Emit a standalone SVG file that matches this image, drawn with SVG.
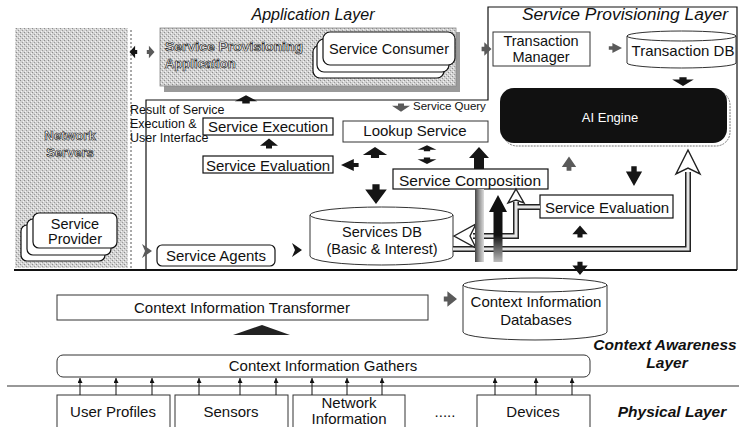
<svg xmlns="http://www.w3.org/2000/svg" width="739" height="427" viewBox="0 0 739 427">
<defs>
<style>
text{font-family:"Liberation Sans",Arial,sans-serif;fill:#111;font-size:15px}
.c{text-anchor:middle}
.box{fill:#fff;stroke:#111;stroke-width:1.2}
.thin{fill:#fff;stroke:#333;stroke-width:1}
.layer{font-style:italic;font-size:16px}
.layerb{font-style:italic;font-weight:bold;font-size:15.5px}
.hollow{fill:#fff;stroke:#2a2a2a;stroke-width:0.7px;font-weight:bold;font-size:13px}
.s13{font-size:13px}
.s125{font-size:12.5px}
.s145{font-size:14.5px}
.s155{font-size:15.5px}
.small{font-size:11.5px}
.frame{fill:none;stroke:#111;stroke-width:1.2}
.arr{fill:#151515}
.garr{fill:#5a5a5a}
.pipe{fill:none;stroke:#222;stroke-width:6}
.pipein{fill:none;stroke:#e4e4e4;stroke-width:3}
.hhead{fill:#fff;stroke:#222;stroke-width:1.4;stroke-linejoin:miter}
.up{stroke:#111;stroke-width:1;fill:none}
</style>
<pattern id="dith" width="4" height="4" patternUnits="userSpaceOnUse">
<rect width="4" height="4" fill="#d2d2d2"/>
<rect x="0" y="0" width="1" height="1" fill="#8c8c8c"/>
<rect x="2" y="2" width="1" height="1" fill="#9a9a9a"/>
<rect x="1" y="3" width="1" height="1" fill="#f4f4f4"/>
<rect x="3" y="1" width="1" height="1" fill="#f4f4f4"/>
</pattern>
<linearGradient id="col" x1="0" x2="1" y1="0" y2="0">
<stop offset="0" stop-color="#444"/><stop offset="0.5" stop-color="#999"/><stop offset="1" stop-color="#ddd"/>
</linearGradient>
<linearGradient id="fade" x1="0" x2="0" y1="0" y2="1">
<stop offset="0" stop-color="#111"/><stop offset="0.6" stop-color="#111"/><stop offset="1" stop-color="#bbb"/>
</linearGradient>
<path id="ua" d="M0,-5 L9,3 L3,3 L3,6 L-3,6 L-3,3 L-9,3 Z"/>
<path id="chev" d="M-5,-7 L5,0 L-5,7 L-2,0 Z"/>
<marker id="tip" viewBox="0 0 6 6" refX="6" refY="3" markerWidth="5" markerHeight="5" orient="auto">
<path d="M0,0 L6,3 L0,6 Z" fill="#111"/>
</marker>
</defs>

<rect width="739" height="427" fill="#fff"/>

<!-- layer frames -->
<g id="frames">
<path class="frame" d="M146,270 L146,100 L488,100 L488,7 L737,7 L737,270"/>
<line x1="14" y1="270" x2="737" y2="270" stroke="#111" stroke-width="2.2"/>
<line x1="7" y1="386" x2="739" y2="386" stroke="#333" stroke-width="1.2"/>
<text class="layer c" x="313" y="20" textLength="123" lengthAdjust="spacingAndGlyphs">Application Layer</text>
<text class="layer c" x="625" y="20" textLength="206" lengthAdjust="spacingAndGlyphs">Service Provisioning Layer</text>
<text class="layerb c" x="665" y="350">Context Awareness</text>
<text class="layerb c" x="667" y="368">Layer</text>
<text class="layerb c" x="672" y="417">Physical Layer</text>
</g>

<!-- network servers -->
<g id="network-servers">
<rect x="15" y="28" width="113" height="240" fill="url(#dith)"/>
<line x1="131" y1="30" x2="131" y2="268" stroke="#555" stroke-width="1" stroke-dasharray="2,2"/>
<text class="hollow c" x="70" y="140">Network</text>
<text class="hollow c" x="70" y="157">Servers</text>
</g>

<g id="service-provider">
<rect class="box" x="21" y="225" width="84" height="36" rx="6"/>
<rect class="box" x="27" y="219" width="84" height="36" rx="6"/>
<rect class="box" x="33" y="213" width="84" height="35" rx="6"/>
<text class="c s145" x="75" y="229">Service</text>
<text class="c s145" x="75" y="244">Provider</text>
</g>

<!-- application layer -->
<g id="provisioning-application">
<rect x="164" y="32" width="296" height="60" fill="#9a9a9a"/>
<rect x="160" y="28" width="296" height="58" fill="url(#dith)" stroke="#888" stroke-width="0.8"/>
<text class="hollow" x="165" y="51" textLength="138" lengthAdjust="spacingAndGlyphs">Service Provisioning</text>
<text class="hollow" x="165" y="68">Application</text>
</g>

<g id="service-consumer">
<rect class="box" x="313" y="45" width="131" height="33" rx="7"/>
<rect class="box" x="317" y="39" width="132" height="33" rx="7"/>
<rect class="box" x="323" y="32" width="132" height="33" rx="7"/>
<text class="c" x="389" y="54" textLength="120" lengthAdjust="spacingAndGlyphs">Service Consumer</text>
</g>

<!-- service provisioning layer -->
<g id="transaction-manager">
<rect class="thin" x="493" y="32" width="97" height="34"/>
<text class="c s145" x="541" y="46">Transaction</text>
<text class="c s145" x="541" y="62">Manager</text>
</g>

<g id="transaction-db">
<path class="thin" d="M627,36 L627,63 A54.5,5 0 0 0 736,63 L736,36"/>
<ellipse class="thin" cx="681.5" cy="36" rx="54.5" ry="5"/>
<text class="c" x="683" y="56">Transaction DB</text>
</g>

<g id="ai-engine">
<rect x="503" y="91" width="227" height="55" rx="14" fill="none" stroke="#777" stroke-width="1" stroke-dasharray="2,1"/>
<rect x="500" y="88" width="227" height="55" rx="14" fill="#111"/>
<text class="c s13" x="610" y="122" style="fill:#fff">AI Engine</text>
</g>

<g id="service-execution">
<rect class="box" x="203" y="118" width="130" height="17"/>
<text class="c" x="268" y="132">Service Execution</text>
</g>

<g id="result-label">
<text class="s125" x="130" y="114">Result of Service</text>
<text class="s125" x="130" y="128">Execution &amp;</text>
<text class="s125" x="130" y="142">User Interface</text>
</g>

<g id="service-evaluation-left">
<rect class="box" x="203" y="156" width="130" height="17"/>
<text class="c" x="268" y="171">Service Evaluation</text>
</g>

<g id="lookup-service">
<rect class="thin" x="343" y="121" width="145" height="21"/>
<text class="c" x="415" y="136">Lookup Service</text>
</g>

<g id="service-query">
<text class="small" x="413" y="110">Service Query</text>
</g>

<g id="service-composition">
<rect class="box" x="393" y="169" width="155" height="20"/>
<text class="c s155" x="470" y="186">Service Composition</text>
</g>

<g id="service-evaluation-right">
<rect class="box" x="540" y="195" width="133" height="23"/>
<text class="c" x="607" y="213">Service Evaluation</text>
</g>

<g id="services-db">
<path class="thin" d="M310,215 L310,256 A71.5,9 0 0 0 453,256 L453,215"/>
<ellipse class="thin" cx="381.5" cy="215" rx="71.5" ry="8"/>
<text class="c s145" x="382" y="237">Services DB</text>
<text class="c s145" x="382" y="254">(Basic &amp; Interest)</text>
</g>

<g id="service-agents">
<rect class="box" x="157" y="245" width="118" height="21" rx="5"/>
<text class="c" x="216" y="261">Service Agents</text>
</g>

<!-- context awareness layer -->
<g id="context-transformer">
<rect class="thin" x="57" y="295" width="371" height="25"/>
<text class="c" x="242" y="313">Context Information Transformer</text>
</g>

<g id="context-databases">
<path class="thin" d="M463,285 L463,332 A72,8 0 0 0 607,332 L607,285"/>
<ellipse class="thin" cx="535" cy="285" rx="72" ry="7"/>
<text class="c" x="536" y="307">Context Information</text>
<text class="c" x="536" y="325">Databases</text>
</g>

<g id="context-gathers">
<rect class="thin" x="57" y="355" width="533" height="22" rx="6"/>
<text class="c" x="323" y="371">Context Information Gathers</text>
</g>

<!-- physical layer -->
<g id="user-profiles">
<rect class="thin" x="57" y="395" width="113" height="40"/>
<text class="c" x="113" y="417">User Profiles</text>
</g>
<g id="sensors">
<rect class="thin" x="175" y="395" width="113" height="40"/>
<text class="c" x="231" y="417">Sensors</text>
</g>
<g id="network-information">
<rect class="thin" x="293" y="395" width="112" height="40"/>
<text class="c" x="349" y="408">Network</text>
<text class="c" x="349" y="424">Information</text>
</g>
<g id="ellipsis">
<text class="c" x="445" y="417">.....</text>
</g>
<g id="devices">
<rect class="thin" x="477" y="395" width="113" height="40"/>
<text class="c" x="533" y="417">Devices</text>
</g>

<!-- connectors -->
<g id="connectors">
<!-- pipes -->
<path class="pipe" d="M453,249 L688,249 L688,172"/>
<path class="pipe" d="M540,207 L516,207"/>
<path class="pipe" d="M516,202 L516,236 L473,236"/>
<path class="pipein" d="M453,249 L688,249 L688,172"/>
<path class="pipein" d="M540,207 L516,207"/>
<path class="pipein" d="M516,202 L516,236 L473,236"/>
<polygon class="hhead" points="516,189 524,203 516,200 508,203"/>
<polygon class="hhead" points="454,236 476,224 470,236 476,248"/>
<polygon class="hhead" points="688,150 700,174 688,168 676,174"/>

<!-- block arrows around composition -->
<rect x="475" y="189" width="9" height="73" fill="url(#col)"/>
<path d="M498,195 L507,212 L502.5,212 L502.5,262 L493.5,262 L493.5,212 L489,212 Z" fill="url(#fade)"/>
<path class="arr" d="M479,147 L489,158 L484,158 L484,169 L474,169 L474,158 L469,158 Z"/>

<use href="#ua" class="arr" transform="translate(246,99) scale(1.25,0.75)"/>
<use href="#ua" class="garr" transform="translate(401,108) rotate(180) scale(1,0.75)"/>
<use href="#ua" class="arr" transform="translate(269,143) scale(1,0.9)"/>
<use href="#ua" class="arr" transform="translate(349,165) rotate(-90) scale(0.67,1.6)"/>
<use href="#ua" class="arr" transform="translate(375,152) scale(1.35,1)"/>
<use href="#ua" class="arr" transform="translate(427,148) scale(1.05,0.55)"/>
<use href="#ua" class="arr" transform="translate(427,161) rotate(180) scale(1.05,0.6)"/>
<use href="#ua" class="arr" transform="translate(376,195) rotate(180) scale(1.2,1.8)"/>
<use href="#ua" class="garr" transform="translate(569,163) scale(0.8,1.3)"/>
<use href="#ua" class="arr" transform="translate(634,177) rotate(180) scale(0.9,1.8)"/>
<use href="#ua" class="arr" transform="translate(580,231) scale(0.85,1.1)"/>
<use href="#ua" class="arr" transform="translate(580,269) rotate(180) scale(0.85,1.2)"/>
<use href="#ua" class="arr" transform="translate(683,82) rotate(180) scale(1.2,0.8)"/>
<use href="#ua" class="garr" transform="translate(616,48) rotate(90) scale(0.55,1.2)"/>
<use href="#ua" class="garr" transform="translate(487,49) rotate(90) scale(0.75,0.9)"/>
<use href="#ua" class="arr" transform="translate(133,52) rotate(-90) scale(0.7,0.7)"/>
<use href="#ua" class="garr" transform="translate(151,52) rotate(90) scale(0.7,0.7)"/>
<use href="#ua" class="garr" transform="translate(451,299) rotate(90) scale(0.85,1.2)"/>
<use href="#chev" class="garr" transform="translate(147,251)"/>
<use href="#chev" class="arr" transform="translate(297,250)"/>
<polygon points="233,335 262,325 290,335" fill="#222"/>

<!-- physical inputs to gatherer -->
<line class="up" x1="80" y1="395" x2="80" y2="378" marker-end="url(#tip)"/>
<line class="up" x1="116" y1="395" x2="116" y2="378" marker-end="url(#tip)"/>
<line class="up" x1="152" y1="395" x2="152" y2="378" marker-end="url(#tip)"/>
<line class="up" x1="199" y1="395" x2="199" y2="378" marker-end="url(#tip)"/>
<line class="up" x1="240" y1="395" x2="240" y2="378" marker-end="url(#tip)"/>
<line class="up" x1="276" y1="395" x2="276" y2="378" marker-end="url(#tip)"/>
<line class="up" x1="312" y1="395" x2="312" y2="378" marker-end="url(#tip)"/>
<line class="up" x1="347" y1="395" x2="347" y2="378" marker-end="url(#tip)"/>
<line class="up" x1="382" y1="395" x2="382" y2="378" marker-end="url(#tip)"/>
<line class="up" x1="495" y1="395" x2="495" y2="378" marker-end="url(#tip)"/>
<line class="up" x1="536" y1="395" x2="536" y2="378" marker-end="url(#tip)"/>
<line class="up" x1="572" y1="395" x2="572" y2="378" marker-end="url(#tip)"/>
</g>
</svg>
